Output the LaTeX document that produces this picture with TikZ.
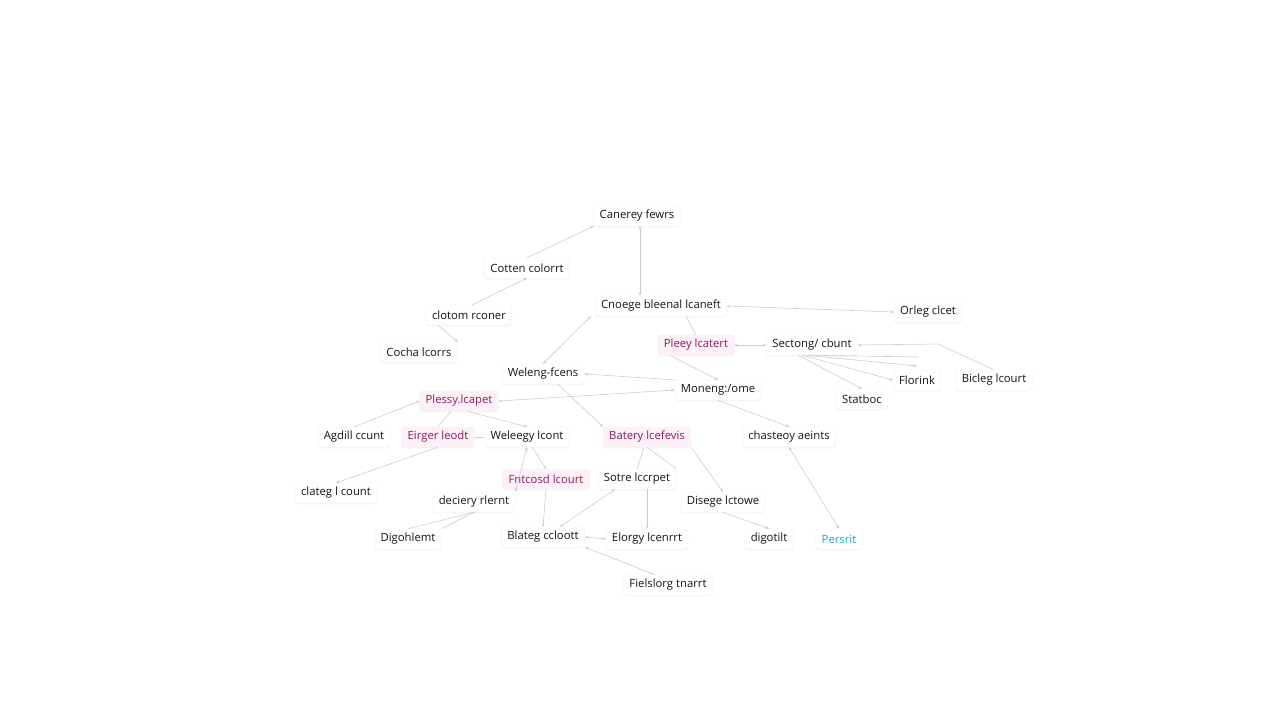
\documentclass[tikz,border=0pt]{standalone}
\usepackage{fontspec}
\setmainfont{Open Sans}
\usetikzlibrary{arrows.meta,shadows}
\definecolor{pinkfill}{HTML}{FDF0F7}
\definecolor{magtext}{HTML}{8A1B5E}
\definecolor{bluetext}{HTML}{1FA3C9}
\begin{document}
\begin{tikzpicture}[x=1pt,y=-1pt,
  box/.style={draw=black!6, fill=white, rounded corners=3pt, inner xsep=6pt, inner ysep=3pt,
    minimum height=20pt, font=\fontsize{11.3}{13}\selectfont, text=black!92,
    drop shadow={opacity=0.07, shadow xshift=0pt, shadow yshift=-1.5pt}},
  pinkbox/.style={box, fill=pinkfill, text=magtext},
  bluebox/.style={box, text=bluetext},
  link/.style={draw=black!20, line width=0.6pt, -{Stealth[length=3.5pt,width=3pt]}},
  blink/.style={link, {Stealth[length=3.5pt,width=3pt]}-{Stealth[length=3.5pt,width=3pt]}},
  plain/.style={draw=black!20, line width=0.6pt}
]
\useasboundingbox (0,0) rectangle (1280,720);
% nodes
\node[box] (can) at (637,216) {Canerey fewrs};
\node[box] (cot) at (527,268) {Cotten colorrt};
\node[box] (clo) at (469,315) {clotom rconer};
\node[box] (coc) at (419,352) {Cocha lcorrs};
\node[box] (cne) at (661,306) {Cnoege bleenal lcaneft};
\node[box] (orl) at (928,312) {Orleg clcet};
\node[pinkbox] (ple) at (696,345) {Pleey lcatert};
\node[box] (sec) at (812,345) {Sectong/ cbunt};
\node[box] (flo) at (917,380) {Florink};
\node[box] (bic) at (994,380) {Bicleg lcourt};
\node[box] (sta) at (862,399) {Statboc};
\node[box] (wel) at (543,374) {Weleng-fcens};
\node[box] (mon) at (718,390) {Moneng:/ome};
\node[pinkbox] (pls) at (459,401) {Plessy.lcapet};
\node[box] (agd) at (354,437) {Agdill ccunt};
\node[pinkbox] (eir) at (438,437) {Eirger leodt};
\node[box] (wee) at (527,437) {Weleegy lcont};
\node[pinkbox] (bat) at (647,437) {Batery lcefevis};
\node[box] (cha) at (789,437) {chasteoy aeints};
\node[box] (cla) at (336,493) {clateg l count};
\node[pinkbox] (fnt) at (546,479) {Fntcosd lcourt};
\node[box] (sot) at (637,479) {Sotre lccrpet};
\node[box] (dis) at (723,502) {Disege lctowe};
\node[box] (dec) at (474,502) {deciery rlernt};
\node[box] (dig) at (408,539) {Digohlemt};
\node[box] (bla) at (543,537) {Blateg ccloott};
\node[box] (elo) at (647,539) {Elorgy lcenrrt};
\node[box] (dgt) at (769,539) {digotilt};
\node[bluebox] (per) at (839,539) {Persrit};
\node[box] (fie) at (668,585) {Fielslorg tnarrt};
% free-end coordinates
\coordinate (s1) at (938,344);
\coordinate (s2) at (918,357);
\coordinate (s3) at (917,366);
% connectors
\draw[link] (cot.north) -- (can.south west);
\draw[blink] (can.south) ++(3,0) coordinate (cs) (cs) -- (cne.north -| cs);
\draw[link] (clo.north) ++(3,0) -- (cot.south);
\draw[link] (clo.south west) ++(12,0) -- (coc.north east);
\draw[blink] (cne.south west) ++(-4,0) -- (wel.north);
\draw[blink] (cne.east) -- (orl.west);
\draw[plain] (cne.south) ++(25,0) -- (ple.north);
\draw[blink] (ple.east) -- (sec.west);
\draw[link] (ple.south west) ++(12,0) -- (mon.north);
\draw[link] (bic.north) -- (s1) -- (sec.east);
\draw[plain] (sec.south) ++(-4,0) -- (s2);
\draw[link] (sec.south) ++(-6,0) -- (s3);
\draw[link] (sec.south) ++(-10,0) -- (flo.west);
\draw[link] (sec.south) ++(-14,0) -- (sta.north);
\draw[link] (mon.north west) -- (wel.east);
\draw[blink] (mon.west) -- (pls.east);
\draw[link] (wel.south) ++(15,0) -- (bat.north west);
\draw[link] (mon.south) -- (cha.north);
\draw[link] (agd.north) -- (pls.west);
\draw[plain] (pls.south) ++(-8,0) -- (eir.north);
\draw[link] (pls.south) ++(8,0) -- (wee.north);
\draw[plain] (eir.east) -- (wee.west);
\draw[link] (eir.south) -- (cla.north);
\draw[link] (wee.south) ++(5,0) -- (fnt.north);
\draw[blink] (wee.south) -- (dec.north east);
\draw[plain] (dec.south) -- (dig.north);
\draw[plain] (dec.south) -- (dig.north east);
\draw[link] (fnt.south) -- (bla.north);
\draw[blink] ([xshift=-22pt]sot.south) -- ([xshift=17pt]bla.north);
\draw[plain] (bat.south) ++(-3,0) -- (sot.north);
\draw[plain] (bat.south) -- (sot.north east);
\draw[link] (bat.south east) -- (dis.north);
\draw[link] (sot.south) ++(10,0) -- (elo.north);
\draw[blink] (bla.east) -- (elo.west);
\draw[link] ([xshift=-13pt]fie.north) -- (bla.south east);
\draw[link] (dis.south) -- (dgt.north);
\draw[blink] (cha.south) -- (per.north);
\end{tikzpicture}
\end{document}
